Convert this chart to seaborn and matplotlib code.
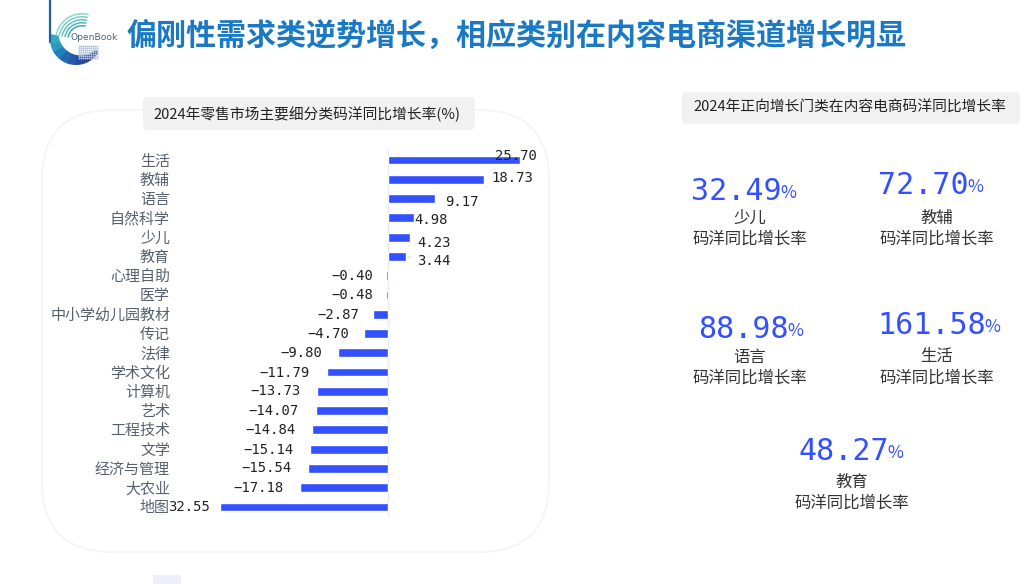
import numpy as np
import pandas as pd
import matplotlib
matplotlib.use('Agg')
import matplotlib.pyplot as plt
from matplotlib.patches import FancyBboxPatch, Wedge, Circle, Rectangle
import seaborn as sns

# 左图数据
categories = ['生活', '教辅', '语言', '自然科学', '少儿', '教育', '心理自助', '医学', '中小学幼儿园教材', '传记',
              '法律', '学术文化', '计算机', '艺术', '工程技术', '文学', '经济与管理', '大农业', '地图']
growth = [25.70, 18.73, 9.17, 4.98, 4.23, 3.44, -0.40, -0.48, -2.87, -4.70,
          -9.80, -11.79, -13.73, -14.07, -14.84, -15.14, -15.54, -17.18, -32.55]

# 右侧指标
kpi_names = ['少儿', '教辅', '语言', '生活', '教育']
kpi_values = [32.49, 72.70, 88.98, 161.58, 48.27]

title = '偏刚性需求类逆势增长，相应类别在内容电商渠道增长明显'
left_title = '2024年零售市场主要细分类码洋同比增长率(%)'
right_title = '2024年正向增长门类在内容电商码洋同比增长率'
kpi_caption = '码洋同比增长率'

# 标签相对柱端的偏移（像素），原图的标签摆放不规则
label_dx = [-4, 27.5, 27, 17, 24, 28, -34, -33, -35, -35, -36.5, -43, -42, -42.5, -40.6, -41, -41, -40.5, -31]
label_dy = [4, 1, -3.4, -2, -6, -5, 0, 0, -1, 0, 0, -1, 0, 0, 0, -1, 0, 0, 0]

# number x, number y, caption x, caption y
kpi_layout = [(782, 191, 750, 218), (969, 185, 937, 218), (789, 329, 750, 357),
              (986, 325, 937, 357), (889, 451, 852, 482)]

BLUE = '#3350ff'
CJK = ['Noto Sans CJK SC', 'DejaVu Sans']
MONO = ['DejaVu Sans Mono', 'Noto Sans CJK SC']

sns.set_theme(style='white')
plt.rcParams['font.family'] = CJK

W, H = 1024, 584
fig = plt.figure(figsize=(W / 100, H / 100), dpi=100, facecolor='white')

# 背景层用像素坐标
bg = fig.add_axes([0, 0, 1, 1])
bg.set_xlim(0, W)
bg.set_ylim(H, 0)
bg.axis('off')

bg.add_patch(FancyBboxPatch((42, 110), 507, 442, boxstyle='round,pad=0,rounding_size=70',
                            fc='white', ec='#f4f4f6', lw=1.2))
bg.add_patch(FancyBboxPatch((143, 97), 332, 33, boxstyle='round,pad=0,rounding_size=5',
                            fc='#f1f1f1', ec='none'))
bg.add_patch(FancyBboxPatch((682, 92), 338, 32, boxstyle='round,pad=0,rounding_size=5',
                            fc='#f1f1f1', ec='none'))
bg.add_patch(Rectangle((153, 575), 28, 9, fc='#edf0fa', ec='none'))

# logo
bg.plot([50, 50], [0, 42], color='#1f5fa8', lw=1.6)
bowl_colors = ['#27439a', '#27439a', '#264a9f', '#2458a8', '#2068b0', '#2080b8', '#2a9abf', '#35aabf']
for a, c in zip(range(30, 190, 20), bowl_colors):
    bg.add_patch(Wedge((76, 39), 26, a, a + 21, fc=c, ec='none'))
bg.add_patch(Circle((81, 33), 22.5, fc='white', ec='none'))
for r, c in zip([27, 24, 21, 18, 15], ['#8ad4ca', '#78cdc6', '#62c3c2', '#4cb8bd', '#3caaba']):
    bg.add_patch(Wedge((82, 40), r, 190, 285, width=1.5, fc=c, ec='none'))
gx, gy = np.meshgrid(np.arange(79, 98, 2), np.arange(46, 60, 2))
bg.scatter(gx.ravel(), gy.ravel(), s=2, color='#b4c4dc', linewidths=0, zorder=3)
bg.text(94, 38, 'OpenBook', fontsize=6.6, color='#4f6478', ha='center', va='center', family=['DejaVu Sans'])

bg.text(127, 36, title, fontsize=21.65, fontweight='bold', color='#1b79c4', ha='left', va='center')
bg.text(307, 114, left_title, fontsize=10.6, color='#222222', ha='center', va='center')
bg.text(850, 108, right_title, fontsize=10.6, color='#222222', ha='center', va='center')

for name, val, (nx, ny, cx, cy) in zip(kpi_names, kpi_values, kpi_layout):
    bg.text(nx, ny, f'{val:.2f}', fontsize=21.6, color=BLUE, ha='right', va='center', family=MONO)
    bg.text(nx - 2, ny + 2, '%', fontsize=12.5, color=BLUE, ha='left', va='center', family=CJK, fontweight='medium')
    bg.text(cx, cy, name, fontsize=11.8, color='#333333', ha='center', va='center')
    bg.text(cx, cy + 21, kpi_caption, fontsize=11.8, color='#333333', ha='center', va='center')

# 柱状图，x=0 对应 388px，每单位 5.15px
ax_left, ax_right, ax_top, ax_bottom = 170, 540, 150.4, 516.6
ax = fig.add_axes([ax_left / W, 1 - ax_bottom / H, (ax_right - ax_left) / W, (ax_bottom - ax_top) / H])
ax.patch.set_alpha(0)
df = pd.DataFrame({'category': categories, 'growth': growth})
sns.barplot(data=df, y='category', x='growth', color=BLUE, saturation=1, width=0.46, ax=ax)
ax.set_xlim((ax_left - 388) / 5.15, (ax_right - 388) / 5.15)
ax.set_ylim(18.5, -0.5)
ax.axvline(0, color='#e4e8f8', lw=1, zorder=0)
ax.set_xlabel('')
ax.set_ylabel('')
ax.set_xticks([])
ax.tick_params(axis='y', length=0, pad=0, labelsize=10.8, labelcolor='#56606f')
sns.despine(ax=ax, left=True, bottom=True)

for i, v in enumerate(growth):
    # 地图的负号在原图被压住，只看得到 32.55
    txt = f'{abs(v):.2f}' if categories[i] == '地图' else f'{v:.2f}'.replace('-', '\u2212')
    arrow = dict(arrowstyle='-', color='#c8d0dc', lw=0.7) if categories[i] == '教育' else None
    ax.annotate(txt, xy=(v, i), xytext=(label_dx[i], label_dy[i]), textcoords='offset pixels',
                fontsize=10, color='#222222', ha='center', va='center', family=MONO, arrowprops=arrow)

fig.savefig('out.png', dpi=100)
